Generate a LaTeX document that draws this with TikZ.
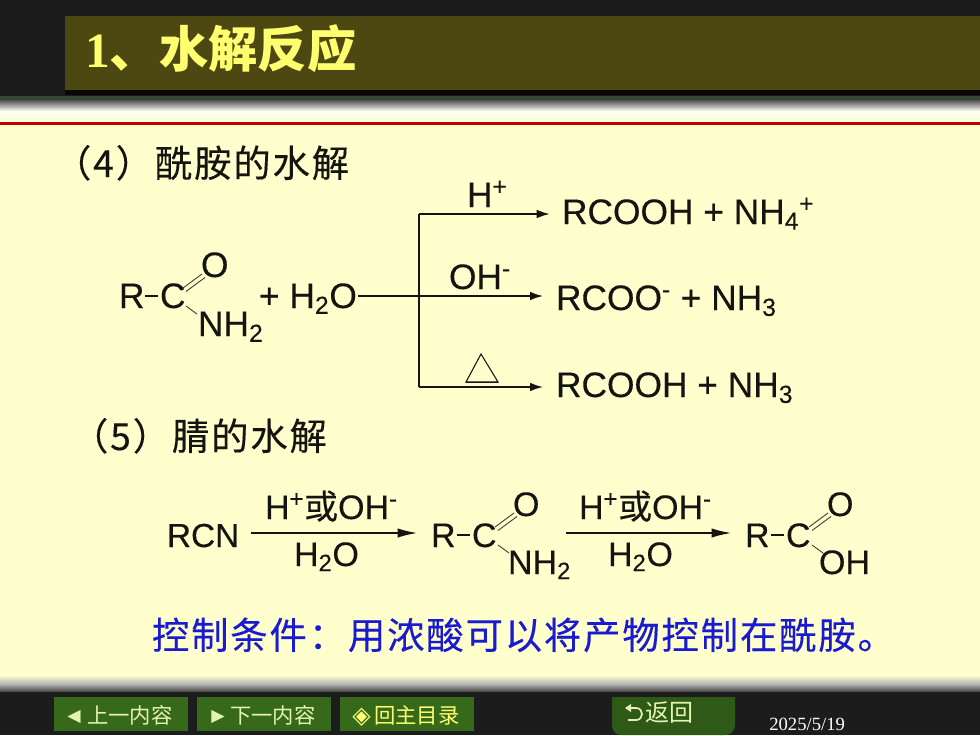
\documentclass[tikz,border=0pt]{standalone}
\usepackage{fontspec}
\setmainfont{Liberation Sans}[FakeBold=0.25]
\newfontfamily\cjk{Noto Sans CJK SC}
\newfontfamily\cjkb[FakeBold=0.25]{Noto Sans CJK SC}
\newfontfamily\cjkw[LetterSpace=5,FakeBold=0.25]{Noto Sans CJK SC}
\newfontfamily\ser{Liberation Serif}
\newfontfamily\djvu{DejaVu Sans}
\definecolor{bgdark}{HTML}{1C1C1C}
\definecolor{olive}{HTML}{4D4811}
\definecolor{paper}{HTML}{FFFFCE}
\definecolor{titley}{HTML}{FFFF70}
\definecolor{btn}{HTML}{36691A}
\definecolor{btntxt}{HTML}{E4F4B0}
\definecolor{blueT}{HTML}{1A1AD0}
\definecolor{ink}{HTML}{141410}
\usetikzlibrary{arrows.meta}
\tikzset{
 x=0.75pt,y=-0.75pt,
 chem/.style={inner sep=0pt,outer sep=0pt,anchor=base west,text=ink,font=\fontsize{26.5}{30}\selectfont},
 chemb/.style={chem,font=\fontsize{25.5}{30}\selectfont},
 cn/.style={inner sep=0pt,outer sep=0pt,anchor=base west,text=ink,font=\cjkw\fontsize{28}{30}\selectfont},
 bond/.style={draw=ink!80,line width=0.7pt},
 rx/.style={draw=ink,line width=1.5pt,-{Latex[length=10pt,width=6.5pt]}},
 rxb/.style={draw=ink,line width=1.5pt,-{Latex[length=15pt,width=7pt]}},
 rl/.style={draw=ink,line width=1.5pt},
 navbtn/.style={fill=btn,draw=none,anchor=north west,inner sep=0pt,outer sep=0pt,minimum width=100.5pt,minimum height=25.5pt},
 navtxt/.style={inner sep=0pt,anchor=base west,text=btntxt,font=\cjk\fontsize{16}{20}\selectfont},
 navsym/.style={inner sep=0pt,anchor=base west,text=btntxt,font=\djvu\fontsize{13}{16}\selectfont},
}
\newcommand{\amide}[4]{%
 \node[#4] (#3R) at (#1,#2) {R};
 \node[#4] (#3C) at (#1+41,#2) {C};
 \node[#4] (#3O) at (#1+82,#2-31) {O};
 \coordinate (#3a) at (#1+26,#2-12);
 \coordinate (#3b) at (#1+39,#2-12);
 \draw[line width=1.1pt,ink] (#3a) -- (#3b);
 \coordinate (#3c) at (#1+64,#2-20);
 \coordinate (#3d) at (#1+83,#2-34);
 \draw[bond] (#3c) -- (#3d);
 \draw[bond] ([shift={(3,3.5)}]#3c) -- ([shift={(3,3.5)}]#3d);
 \coordinate (#3e) at (#1+67,#2-2);
 \coordinate (#3f) at (#1+78,#2+6);
 \draw[bond] (#3e) -- (#3f);
}
\begin{document}
\begin{tikzpicture}
\useasboundingbox (0,0) rectangle (980,735);
\fill[bgdark] (0,0) rectangle (980,735);
% title
\fill[olive] (65,16) rectangle (980,90);
\node[inner sep=0pt,anchor=base west,text=titley,font=\ser\bfseries\fontsize{37}{40}\selectfont] (title) at (85,68) {1{\cjk\bfseries 、水解反应}};
\fill[black!90!olive] (65,90) rectangle (980,95);
\fill[green!20!black!85!white] (0,95.5) rectangle (980,97);
% page
\fill[paper] (0,110) rectangle (980,678);
\fill[black!75] (0,97) rectangle (980,99);
\shade[top color=black!75,bottom color=white!95!yellow] (0,99) rectangle (980,111);
\shade[top color=white!95!yellow,bottom color=paper] (0,111) rectangle (980,125);
\shade[top color=paper,bottom color=white!70!black] (0,675) rectangle (980,684);
\shade[top color=white!70!black,bottom color=black!75] (0,684) rectangle (980,692);
\fill[bgdark] (0,692) rectangle (980,735);
\fill[red!75!black] (0,122) rectangle (980,124.5);
% headings
\node[cn] (h4) at (54,177) {（4）酰胺的水解};
\node[cn] (h5) at (71,450) {（5）腈的水解};
% amide hydrolysis
\amide{119}{308}{A}{chem}
\node[chem] (An) at (198,336) {NH\textsubscript{2}};
\node[chem] (plus) at (259,308) {+ H\textsubscript{2}O};
\coordinate (j) at (419,296);
\coordinate (jt) at (419,214);
\coordinate (jb) at (419,387);
\node[chem] (p1) at (562,224) {RCOOH + NH\textsubscript{4}\textsuperscript{+}};
\node[chem] (p2) at (556,310) {RCOO\textsuperscript{-} + NH\textsubscript{3}};
\node[chem] (p3) at (556,397) {RCOOH + NH\textsubscript{3}};
\draw[rx] ([xshift=1pt]plus.east |- j) -- ([xshift=-9.5pt]p2.west |- j);
\draw[rl] (jt) -- (jb);
\draw[rx] (jt) -- ([xshift=-9pt]p1.west |- jt);
\draw[rx] (jb) -- ([xshift=-9.5pt]p3.west |- jb);
\node[chem] (c1) at (467,207) {H\textsuperscript{+}};
\node[chem] (c2) at (449,289) {OH\textsuperscript{-}};
\draw[ink,line width=0.8pt] (466,382) -- (481,354) -- (498,382) -- cycle;
\draw[ink,line width=1.2pt] (466,382.5) -- (498,382.5);
% nitrile
\node[chemb,font=\fontsize{25}{30}\selectfont] (rcn) at (167,547) {RCN};
\coordinate (r1s) at (251,533);
\node[chemb] (n1t) at (265,519) {H\textsuperscript{+}{\cjkb 或}OH\textsuperscript{-}};
\node[chemb] (n1b) at (294,566) {H\textsubscript{2}O};
\amide{431}{547}{B}{chemb}
\node[chemb] (Bn) at (508,574) {NH\textsubscript{2}};
\draw[rxb] (r1s) -- ([xshift=-10pt]BR.west |- r1s);
\coordinate (r2s) at (566,533);
\node[chemb] (n2t) at (579,519) {H\textsuperscript{+}{\cjkb 或}OH\textsuperscript{-}};
\node[chemb] (n2b) at (608,566) {H\textsubscript{2}O};
\amide{745}{547}{D}{chemb}
\node[chemb] (Dn) at (819,574) {OH};
\draw[rxb] (r2s) -- ([xshift=-10pt]DR.west |- r2s);
% note
\node[cn,text=blueT] (note) at (152,649) {控制条件：用浓酸可以将产物控制在酰胺。};
% nav
\node[navbtn] (b1) at (54,697) {};
\node[navbtn] (b2) at (197,697) {};
\node[navbtn] (b3) at (340,697) {};
\node[navsym] (s1) at (67,721) {◀};
\node[navtxt] (t1) at (87,723) {上一内容};
\node[navsym] (s2) at (211,721) {▶};
\node[navtxt] (t2) at (230,723) {下一内容};
\node[navsym,text=titley,font=\djvu\fontsize{18}{20}\selectfont] (s3) at (352,723) {◈};
\node[navtxt,text=titley] (t3) at (374,723) {回主目录};
\path[fill=btn!85!black] (612,697) -- (735,697) -- (735,724) .. controls (735,732) and (730,735) .. (725,735) -- (622,735) .. controls (616,735) and (612,732) .. (612,724) -- cycle;
\draw[btntxt,line width=1.3pt] (629,708) -- (636,708) .. controls (644,708) and (644,720) .. (636,720) -- (628,720);
\fill[btntxt] (625,708) -- (631,704) -- (631,712) -- cycle;
\node[navtxt,font=\cjk\fontsize{18}{20}\selectfont] (t4) at (645,721) {返回};
\node[inner sep=0pt,text=white,anchor=base west,font=\ser\fontsize{14}{18}\selectfont] (date) at (769,730) {2025/5/19};
\end{tikzpicture}
\end{document}
